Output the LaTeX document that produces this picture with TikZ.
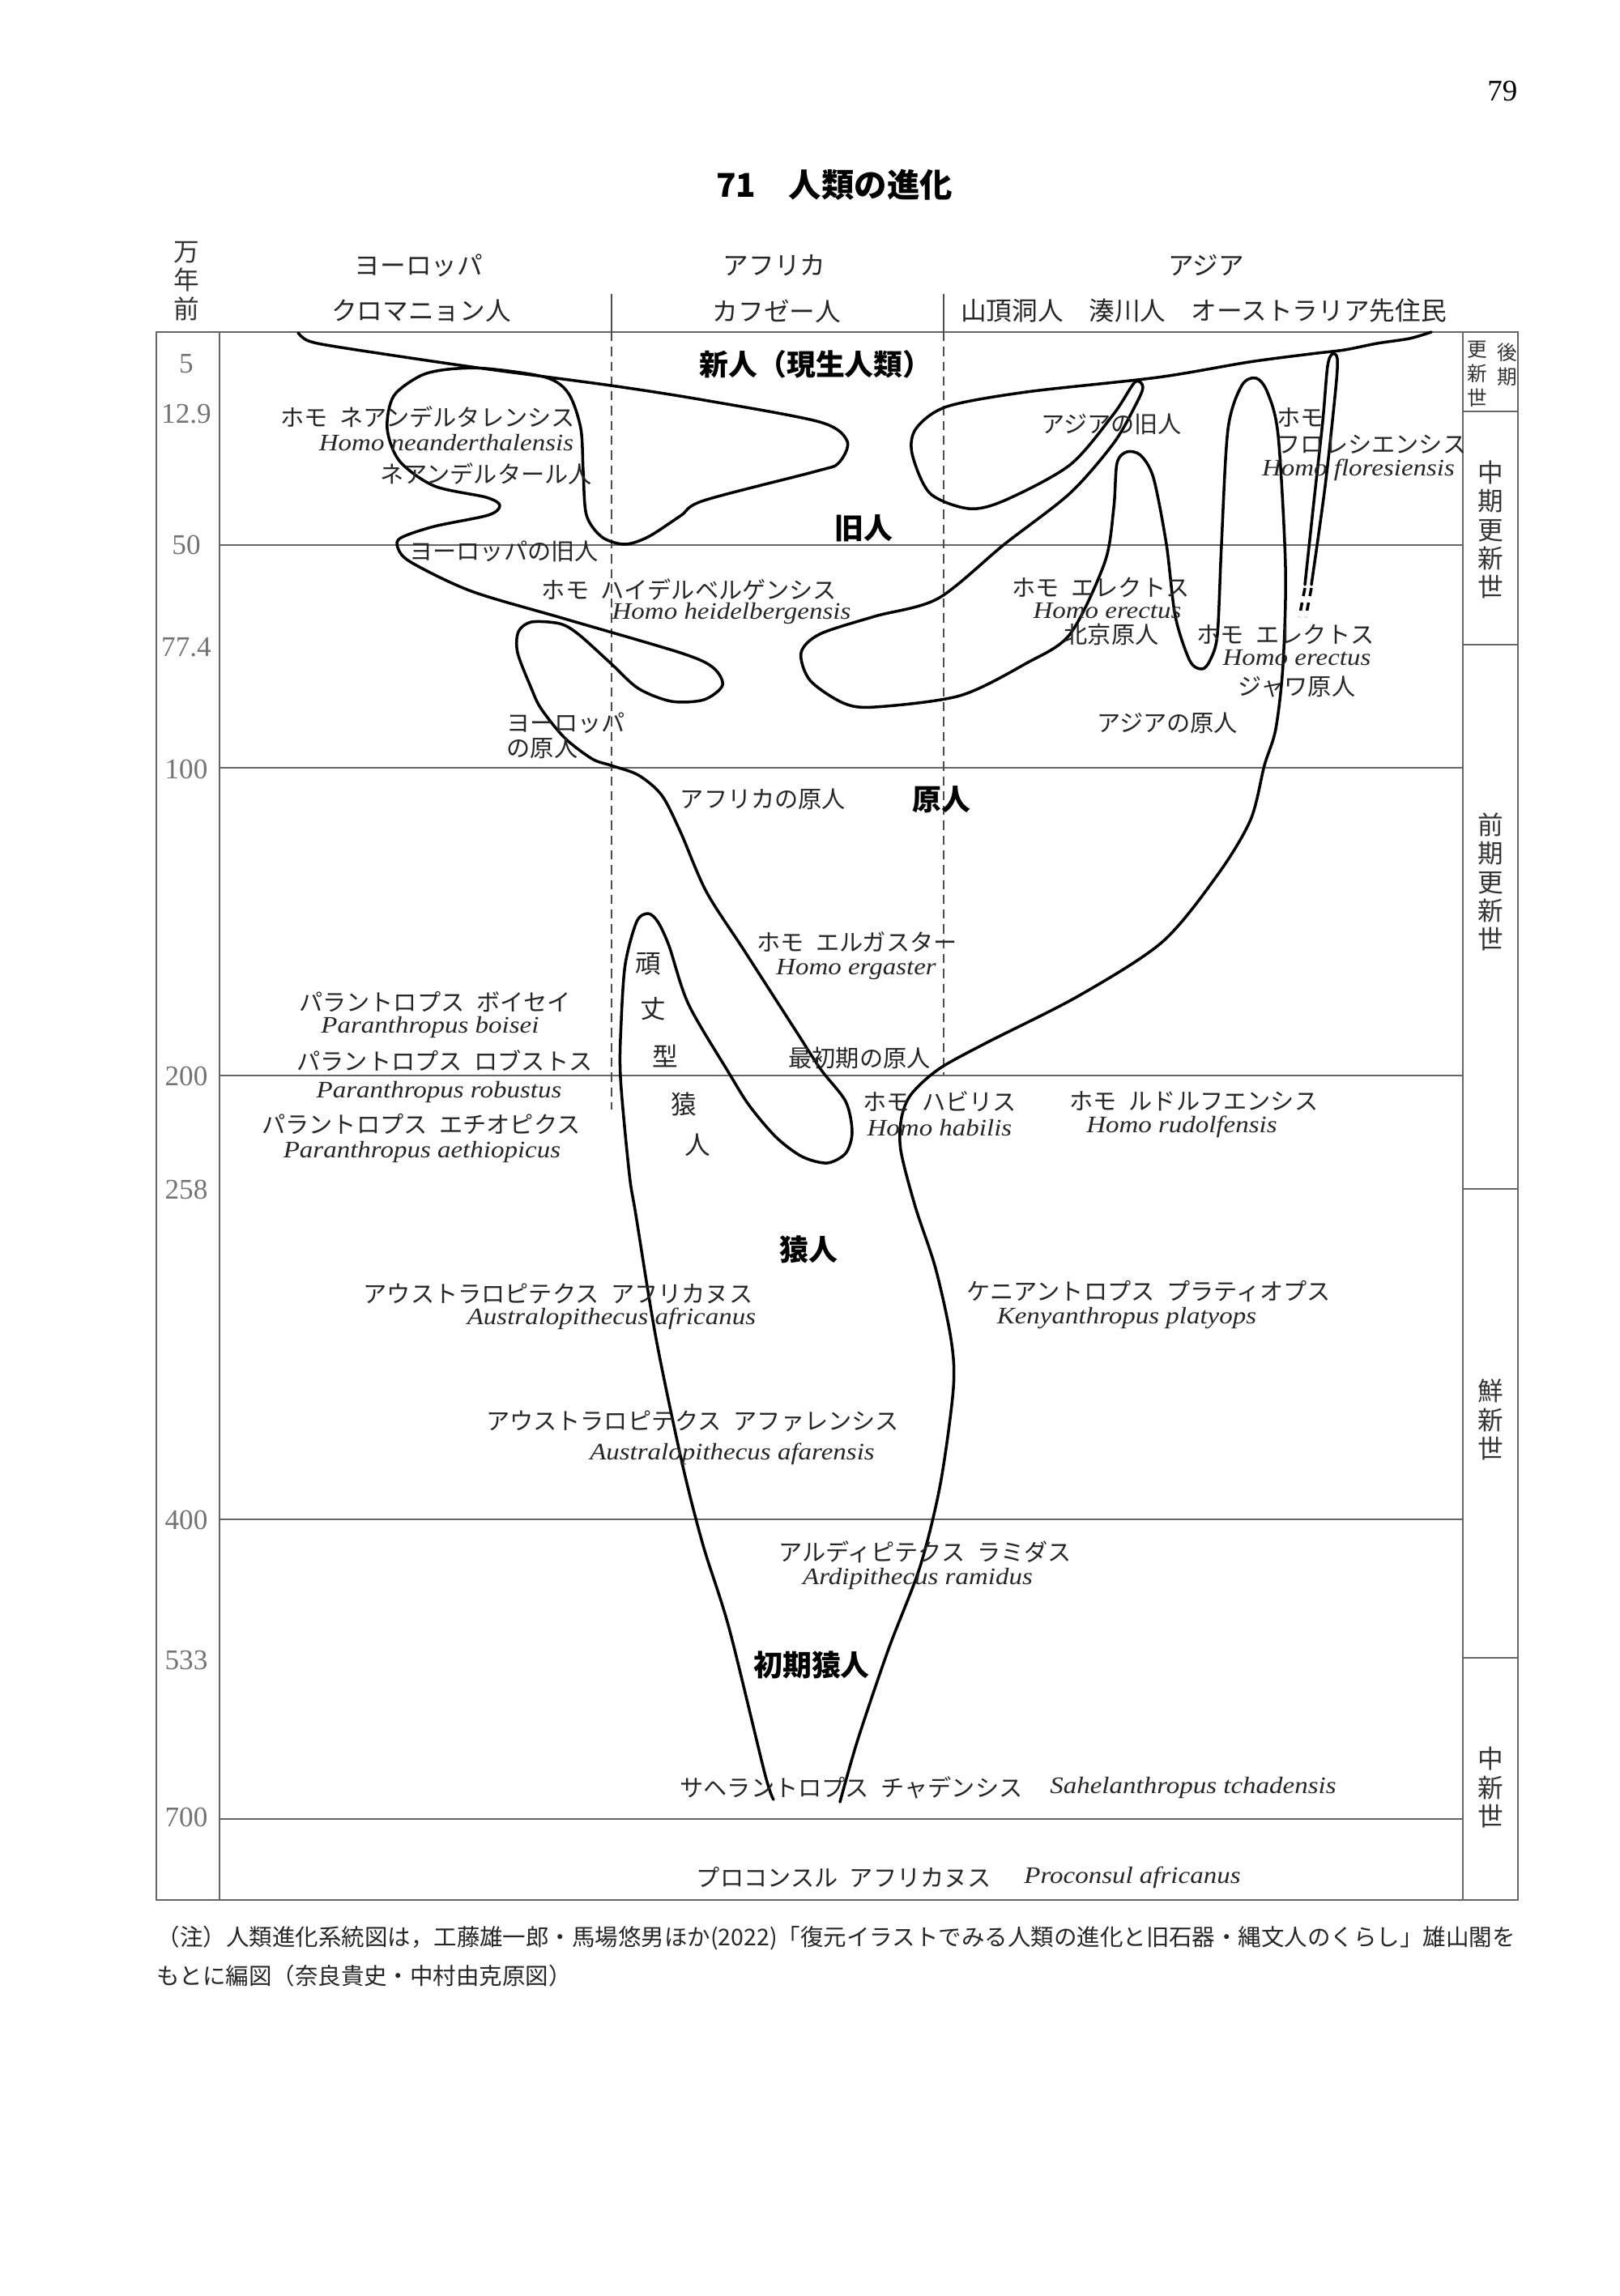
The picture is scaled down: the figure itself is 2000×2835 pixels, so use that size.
\documentclass[tikz,border=0pt]{standalone}
\usepackage{fontspec}
\setmainfont{Liberation Serif}
\newfontfamily\jpfont{Noto Sans CJK JP}
\newfontfamily\latfont{Liberation Serif}[FakeStretch=1.13]
\newcommand{\jsp}{\hspace{0.5em}}

\begin{document}
\begin{tikzpicture}[x=0.01cm, y=-0.01cm,
  jlabel/.style={font=\jpfont\fontsize{8.3}{10}\selectfont, text=black!85, inner sep=0pt},
  latin/.style={font=\latfont\itshape\fontsize{8.3}{10}\selectfont, text=black!85, inner sep=0pt},
  head/.style={font=\jpfont\fontsize{9}{10}\selectfont, text=black!85, inner sep=0pt},
  stage/.style={font=\jpfont\bfseries\fontsize{10.2}{12}\selectfont, inner sep=0pt},
  agenum/.style={font=\fontsize{10}{12}\selectfont, text=black!55, inner sep=0pt},
  epoch/.style={font=\jpfont\fontsize{9}{10}\selectfont, text=black!80, align=center, inner sep=0pt},
  epochsmall/.style={font=\jpfont\fontsize{7}{8.5}\selectfont, text=black!80, align=center, inner sep=0pt},
  rule/.style={black!60, line width=0.6pt},
  border/.style={black!70, line width=0.45pt, dash pattern=on 3.2pt off 2pt},
  lineage/.style={black, line width=1pt, line cap=round, line join=round},
]
\useasboundingbox (0,0) rectangle (2000,2835);

% page number and title
\node[font=\fontsize{10.5}{12}\selectfont, anchor=east, inner sep=0pt] (page) at (1874,112) {79};
\node[font=\jpfont\bfseries\fontsize{11.5}{13}\selectfont, inner sep=0pt] (title) at (1030,228) {71　人類の進化};

% header
\node[epoch] (unit) at (230,347) {万\\年\\前};
\node[head] (eu) at (517,328) {ヨーロッパ};
\node[head] (af) at (956,328) {アフリカ};
\node[head] (as) at (1489,328) {アジア};
\node[head] (cro) at (520,384) {クロマニョン人};
\node[head] (qaf) at (959,384) {カフゼー人};
\node[head] (asmod) at (1486,384) {山頂洞人　湊川人　オーストラリア先住民};

% frame and time lines
\draw[rule] (193,410) rectangle (1874,2346);
\draw[rule] (271,410) -- (271,2346);
\draw[rule] (1806,410) -- (1806,2346);
\foreach \y in {673,948,1328,1876,2246}
  \draw[rule] (271,\y) -- (1806,\y);
\foreach \y in {508,796,1468,2047}
  \draw[rule] (1806,\y) -- (1874,\y);

% region borders
\draw[black!70, line width=0.45pt] (755,363) -- (755,410);
\draw[black!70, line width=0.45pt] (1165,363) -- (1165,410);
\draw[border] (755,410) -- (755,1370);
\draw[border] (1165,410) -- (1165,1327);

% ages
\foreach \v/\y [count=\i] in {5/449, 12.9/511, 50/673, 77.4/799, 100/950, 200/1329, 258/1469, 400/1877, 533/2050, 700/2244}
  \node[agenum] (age\i) at (230,\y) {\v};

% epochs
\node[epochsmall] (late1) at (1861,450) {後\\期};
\node[epochsmall] (late2) at (1824,462) {更\\新\\世};
\node[epoch] (mid) at (1840,654) {中\\期\\更\\新\\世};
\node[epoch] (lower) at (1840,1089) {前\\期\\更\\新\\世};
\node[epoch] (plio) at (1840,1753) {鮮\\新\\世};
\node[epoch] (mio) at (1840,2207) {中\\新\\世};

% western lineage
\draw[lineage] plot[smooth, tension=0.5] coordinates {
  (368,411) (381,421) (421,429) (582,453) (754,476) (869,494) (1012,521)
  (1046,545) (1035,572) (1007,582) (869,618) (840,637) (800,663) (771,672)
  (743,663) (724,636) (720,582) (717,529) (702,486) (674,466) (600,455)
  (553,456) (519,464) (486,489) (478,529) (493,569) (536,600) (600,614)
  (617,624) (603,636) (536,650) (495,664) (491,676) (507,694) (582,730)
  (697,764) (840,806) (880,824) (892,846) (869,864) (829,866) (788,850)
  (754,819) (714,783) (691,770) (656,768) (640,780) (639,806) (656,850)
  (668,875) (697,911) (731,937) (754,945) (788,957) (817,982) (840,1027)
  (872,1101) (919,1174) (982,1272) (1013,1320) (1044,1360) (1052,1398)
  (1044,1424) (1021,1436) (990,1428) (958,1404) (925,1365) (900,1325)
  (850,1240) (826,1168) (812,1138) (800,1128) (786,1138) (772,1190)
  (767,1260) (766,1330) (777,1450) (785,1500) (810,1653) (842,1806)
  (868,1908) (900,2010) (944,2189) (955,2222)};

% eastern lineage
\draw[lineage] plot[smooth, tension=0.5] coordinates {
  (1037,2225) (1059,2148) (1097,2036) (1136,1934) (1161,1832) (1177,1714)
  (1174,1653) (1155,1566) (1130,1490) (1112,1420) (1113,1380) (1125,1351)
  (1159,1320) (1217,1288) (1331,1230) (1435,1163) (1504,1079) (1544,1012)
  (1561,945) (1575,900) (1584,820) (1587,700) (1578,538) (1565,485)
  (1551,467) (1533,476) (1516,530) (1508,672) (1503,783) (1494,815)
  (1484,826) (1469,816) (1451,761) (1440,672) (1424,590) (1408,562)
  (1391,558) (1379,572) (1375,627) (1364,694) (1321,783) (1267,819)
  (1185,859) (1080,873) (1041,868) (1000,840) (989,806) (1012,783)
  (1080,761) (1158,739) (1240,672) (1321,609) (1375,547) (1402,500)
  (1411,478) (1401,472) (1375,511) (1321,574) (1240,618) (1196,628)
  (1148,609) (1126,560) (1131,529) (1169,502) (1267,484) (1429,466)
  (1542,447) (1618,437) (1660,432) (1700,424) (1740,418) (1767,410)};

% floresiensis
\draw[lineage] plot[smooth, tension=0.5] coordinates {
  (1611,722) (1622,620) (1633,520) (1639,452) (1645,437) (1651,443)
  (1649,480) (1636,600) (1619,722)};
\draw[lineage, line cap=butt, dash pattern=on 2.9pt off 2.3pt] (1611,726) -- (1604,762);
\draw[lineage, line cap=butt, dash pattern=on 2.9pt off 2.3pt] (1619,726) -- (1612,762);

% stages
\node[stage] (modern) at (1007,450) {新人（現生人類）};
\node[stage] (archaic) at (1066,652) {旧人};
\node[stage] (erect) at (1162,987) {原人};
\node[stage] (austr) at (998,1543) {猿人};
\node[stage] (early) at (1002,2056) {初期猿人};

% europe
\node[jlabel] (nea1) at (528,515) {ホモ\jsp ネアンデルタレンシス};
\node[latin] (nea2) at (551,547) {Homo neanderthalensis};
\node[jlabel] (nea3) at (600,585) {ネアンデルタール人};
\node[jlabel] (euarch) at (622,681) {ヨーロッパの旧人};
\node[jlabel] (hei1) at (851,728) {ホモ\jsp ハイデルベルゲンシス};
\node[latin] (hei2) at (903,757) {Homo heidelbergensis};
\node[jlabel, anchor=west] (euer1) at (625,893) {ヨーロッパ};
\node[jlabel, anchor=west] (euer2) at (625,924) {の原人};

% africa
\node[jlabel] (afer) at (942,987) {アフリカの原人};
\node[jlabel] (erg1) at (1058,1163) {ホモ\jsp エルガスター};
\node[latin] (erg2) at (1057,1197) {Homo ergaster};
\node[jlabel] (first) at (1061,1306) {最初期の原人};
\node[jlabel] (hab1) at (1160,1360) {ホモ\jsp ハビリス};
\node[latin] (hab2) at (1160,1393) {Homo habilis};
\node[jlabel] (rud1) at (1474,1360) {ホモ\jsp ルドルフエンシス};
\node[latin] (rud2) at (1459,1391) {Homo rudolfensis};
\node[jlabel] (boi1) at (537,1237) {パラントロプス\jsp ボイセイ};
\node[latin] (boi2) at (531,1268) {Paranthropus boisei};
\node[jlabel] (rob1) at (549,1310) {パラントロプス\jsp ロブストス};
\node[latin] (rob2) at (542,1348) {Paranthropus robustus};
\node[jlabel] (aet1) at (520,1388) {パラントロプス\jsp エチオピクス};
\node[latin] (aet2) at (521,1422) {Paranthropus aethiopicus};
\foreach \c/\x/\y [count=\i] in {頑/800/1190, 丈/806/1246, 型/821/1304, 猿/844/1363, 人/861/1414}
  \node[jlabel, font=\jpfont\fontsize{9}{10}\selectfont] (robust\i) at (\x,\y) {\c};
\node[jlabel] (afri1) at (689,1597) {アウストラロピテクス\jsp アフリカヌス};
\node[latin] (afri2) at (755,1628) {Australopithecus africanus};
\node[jlabel] (ken1) at (1418,1594) {ケニアントロプス\jsp プラティオプス};
\node[latin] (ken2) at (1391,1628) {Kenyanthropus platyops};
\node[jlabel] (afar1) at (855,1755) {アウストラロピテクス\jsp アファレンシス};
\node[latin] (afar2) at (904,1795) {Australopithecus afarensis};
\node[jlabel] (ard1) at (1142,1916) {アルディピテクス\jsp ラミダス};
\node[latin] (ard2) at (1133,1949) {Ardipithecus ramidus};
\node[jlabel] (sah1) at (1051,2207) {サヘラントロプス\jsp チャデンシス};
\node[latin] (sah2) at (1473,2207) {Sahelanthropus tchadensis};
\node[jlabel] (pro1) at (1042,2318) {プロコンスル\jsp アフリカヌス};
\node[latin] (pro2) at (1398,2318) {Proconsul africanus};

% asia
\node[jlabel] (asarch) at (1372,524) {アジアの旧人};
\node[jlabel, anchor=west] (flo1) at (1576,515) {ホモ};
\node[jlabel, anchor=west] (flo2) at (1576,549) {フロレシエンシス};
\node[latin] (flo3) at (1677,580) {Homo floresiensis};
\node[jlabel] (pek1) at (1359,725) {ホモ\jsp エレクトス};
\node[latin] (pek2) at (1367,754) {Homo erectus};
\node[jlabel] (pek3) at (1372,783) {北京原人};
\node[jlabel] (jav1) at (1587,783) {ホモ\jsp エレクトス};
\node[latin] (jav2) at (1601,812) {Homo erectus};
\node[jlabel] (jav3) at (1601,848) {ジャワ原人};
\node[jlabel] (aser) at (1441,893) {アジアの原人};

% note
\node[jlabel, font=\jpfont\fontsize{8.1}{10}\selectfont, anchor=west] (note1) at (193,2393) {（注）人類進化系統図は，工藤雄一郎・馬場悠男ほか(2022)「復元イラストでみる人類の進化と旧石器・縄文人のくらし」雄山閣を};
\node[jlabel, font=\jpfont\fontsize{8.1}{10}\selectfont, anchor=west] (note2) at (193,2440) {もとに編図（奈良貴史・中村由克原図）};
\end{tikzpicture}
\end{document}
